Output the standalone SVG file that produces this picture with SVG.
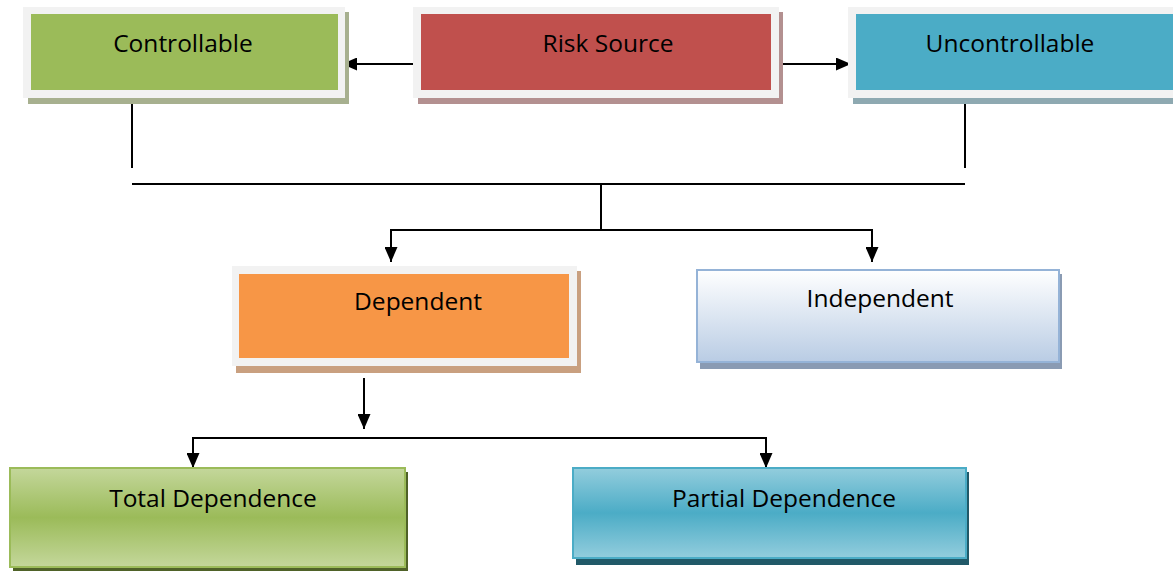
<svg xmlns="http://www.w3.org/2000/svg" width="1173" height="572" viewBox="0 0 1173 572">
<style>
text{font-family:"Open Sans","Liberation Sans",sans-serif;font-size:24.5px;fill:#000;text-anchor:middle}
.frame{fill:#f2f2f2}
.ln{stroke:#000;stroke-width:2;fill:none}
</style>
<defs>
<marker id="ah" viewBox="0 0 10 10" refX="10" refY="5" markerWidth="15" markerHeight="13" markerUnits="userSpaceOnUse" orient="auto" preserveAspectRatio="none">
<path d="M0,0 L10,5 L0,10 z" fill="#000"/>
</marker>
<linearGradient id="gInd" x1="0" y1="0" x2="0" y2="1">
<stop offset="0" stop-color="#ffffff"/><stop offset="1" stop-color="#b9cce4"/>
</linearGradient>
<linearGradient id="gTot" x1="0" y1="0" x2="0" y2="1">
<stop offset="0" stop-color="#c4d79b"/><stop offset="0.5" stop-color="#9bbb59"/><stop offset="1" stop-color="#c4d79b"/>
</linearGradient>
<linearGradient id="gPar" x1="0" y1="0" x2="0" y2="1">
<stop offset="0" stop-color="#93cddd"/><stop offset="0.5" stop-color="#4bacc6"/><stop offset="1" stop-color="#93cddd"/>
</linearGradient>
</defs>
<g id="connectors">
<line class="ln" x1="416" y1="64" x2="342" y2="64" marker-end="url(#ah)"/>
<line class="ln" x1="779" y1="64" x2="851" y2="64" marker-end="url(#ah)"/>
<line class="ln" x1="132" y1="104" x2="132" y2="168"/>
<line class="ln" x1="965" y1="104" x2="965" y2="168"/>
<line class="ln" x1="132" y1="184" x2="965" y2="184"/>
<line class="ln" x1="601" y1="184" x2="601" y2="230"/>
<line class="ln" x1="390" y1="230" x2="873" y2="230"/>
<line class="ln" x1="391" y1="230" x2="391" y2="262" marker-end="url(#ah)"/>
<line class="ln" x1="872" y1="230" x2="872" y2="262" marker-end="url(#ah)"/>
<line class="ln" x1="364" y1="378" x2="364" y2="429" marker-end="url(#ah)"/>
<line class="ln" x1="192" y1="438" x2="767" y2="438"/>
<line class="ln" x1="193" y1="438" x2="193" y2="468" marker-end="url(#ah)"/>
<line class="ln" x1="766" y1="438" x2="766" y2="468" marker-end="url(#ah)"/>
</g>
<g id="controllable">
<rect x="28" y="12" width="321" height="92" fill="#a7b08f"/>
<rect class="frame" x="23" y="7" width="322" height="91"/>
<rect x="31" y="14" width="307" height="76" fill="#9bbb59"/>
<text x="183" y="52">Controllable</text>
</g>
<g id="risk-source">
<rect x="418" y="12" width="365" height="92" fill="#b39090"/>
<rect class="frame" x="413" y="7" width="366" height="91"/>
<rect x="421" y="14" width="350" height="76" fill="#c0504d"/>
<text x="608" y="52">Risk Source</text>
</g>
<g id="uncontrollable">
<rect x="853" y="12" width="330" height="92" fill="#8ea9b1"/>
<rect class="frame" x="848" y="7" width="330" height="91"/>
<rect x="856" y="14" width="320" height="76" fill="#4bacc6"/>
<text x="1010" y="52">Uncontrollable</text>
</g>
<g id="dependent">
<rect x="236" y="271" width="345" height="102" fill="#c9a080"/>
<rect class="frame" x="232" y="266" width="345" height="100"/>
<rect x="239" y="274" width="330" height="84" fill="#f79646"/>
<text x="418" y="310">Dependent</text>
</g>
<g id="independent">
<rect x="700" y="274" width="362" height="95" fill="#8a9bb3"/>
<rect x="697" y="270" width="362" height="92" fill="url(#gInd)" stroke="#95b3d7" stroke-width="2"/>
<text x="880" y="307">Independent</text>
</g>
<g id="total-dependence">
<rect x="13" y="472" width="395" height="99" fill="#4f6228"/>
<rect x="10" y="468" width="395" height="99" fill="url(#gTot)" stroke="#9bbb59" stroke-width="2"/>
<text x="213" y="507">Total Dependence</text>
</g>
<g id="partial-dependence">
<rect x="576" y="472" width="393" height="93" fill="#215968"/>
<rect x="573" y="468" width="393" height="90" fill="url(#gPar)" stroke="#4bacc6" stroke-width="2"/>
<text x="784" y="507">Partial Dependence</text>
</g>
</svg>
